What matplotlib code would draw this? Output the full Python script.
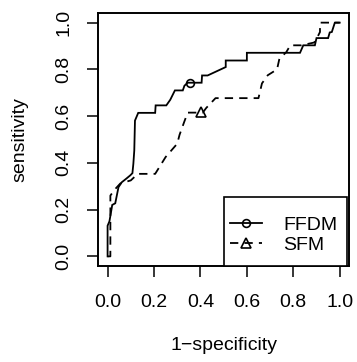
import matplotlib
matplotlib.use("Agg")
import matplotlib.pyplot as plt
from matplotlib.patches import Rectangle
from matplotlib.lines import Line2D

plt.rcParams['font.family'] = ['Liberation Sans', 'DejaVu Sans']

# FFDM ROC curve (1-specificity, sensitivity)
ffdm_fpr = [0.000, 0.000, 0.008, 0.016, 0.020, 0.033, 0.047, 0.061, 0.080, 0.097,
            0.107, 0.111, 0.115, 0.118, 0.132, 0.205, 0.207, 0.253, 0.270, 0.290,
            0.324, 0.331, 0.345, 0.405, 0.407, 0.431, 0.509, 0.509, 0.600, 0.600,
            0.829, 0.843, 0.893, 0.900, 0.950, 0.957, 0.966, 0.979, 1.000]
ffdm_tpr = [0.000, 0.131, 0.150, 0.196, 0.220, 0.227, 0.296, 0.317, 0.332, 0.346,
            0.356, 0.396, 0.453, 0.581, 0.614, 0.614, 0.646, 0.646, 0.670, 0.710,
            0.710, 0.730, 0.743, 0.743, 0.774, 0.774, 0.810, 0.838, 0.838, 0.871,
            0.871, 0.903, 0.903, 0.934, 0.934, 0.958, 0.960, 1.000, 1.000]

# SFM ROC curve
sfm_fpr = [0.000, 0.012, 0.012, 0.030, 0.055, 0.100, 0.130, 0.205, 0.250, 0.300,
           0.310, 0.330, 0.345, 0.410, 0.425, 0.465, 0.650, 0.665, 0.690, 0.730,
           0.740, 0.770, 0.787, 0.835, 0.890, 0.905, 0.915, 0.915, 1.000]
sfm_tpr = [0.000, 0.000, 0.260, 0.285, 0.312, 0.325, 0.353, 0.353, 0.425, 0.482,
           0.520, 0.575, 0.615, 0.615, 0.635, 0.677, 0.677, 0.740, 0.775, 0.800,
           0.845, 0.874, 0.903, 0.903, 0.915, 0.940, 0.960, 1.000, 1.000]

# highlighted operating points
ffdm_point = (0.353, 0.743)
sfm_point = (0.402, 0.617)

ticks = [0.0, 0.2, 0.4, 0.6, 0.8, 1.0]
tick_labels = ["0.0", "0.2", "0.4", "0.6", "0.8", "1.0"]
series_names = ["FFDM", "SFM"]

W, H = 357, 362
fig = plt.figure(figsize=(W / 100, H / 100), dpi=100)
L, R, T, B = 98.3, 349.0, 13.3, 265.7
ax = fig.add_axes([L / W, 1 - B / H, (R - L) / W, (B - T) / H])

lw = 1.3
dash = (0, (4.6, 3.4))
ax.plot(ffdm_fpr, ffdm_tpr, color='black', lw=lw, solid_joinstyle='miter')
ax.plot(sfm_fpr, sfm_tpr, color='black', lw=lw, linestyle=dash)
ax.plot([ffdm_point[0]], [ffdm_point[1]], marker='o', ms=5.6, mfc='none',
        mec='black', mew=1.2, linestyle='none')
ax.plot([sfm_point[0]], [sfm_point[1]], marker='^', ms=6.8, mfc='none',
        mec='black', mew=1.2, linestyle='none')

ax.set_xlim(-0.04, 1.04)
ax.set_ylim(-0.04, 1.04)
ax.set_xticks(ticks)
ax.set_xticklabels(tick_labels)
ax.set_yticks(ticks)
ax.set_yticklabels(tick_labels, rotation=90, va='center')
ax.tick_params(axis='both', direction='out', length=7.9, width=1.1,
               labelsize=14, colors='black')
ax.tick_params(axis='x', pad=12.5)
ax.tick_params(axis='y', pad=10.5)
for s in ax.spines.values():
    s.set_linewidth(1.4)

ax.set_xlabel("1\u2212specificity", fontsize=14, labelpad=19)
ax.set_ylabel("sensitivity", fontsize=14, labelpad=20)

# legend box (R style)
lx0 = (224 - L) / (R - L)
lx1 = (346.7 - L) / (R - L)
ly1 = (B - 197.3) / (B - T)
ax.add_patch(Rectangle((lx0, 0.0), lx1 - lx0, ly1, transform=ax.transAxes,
                       fill=True, facecolor='white', edgecolor='black', lw=1.2,
                       zorder=5, clip_on=False))
handles = [
    Line2D([], [], color='black', lw=lw, marker='o', ms=5.6, mfc='none', mew=1.2),
    Line2D([], [], color='black', lw=lw, linestyle=dash, marker='^', ms=6.8,
           mfc='none', mew=1.2),
]
hx = (230 - L) / (R - L)
hy = (B - 216.0) / (B - T)
leg = ax.legend(handles, series_names, loc='upper left', bbox_to_anchor=(hx, hy),
                frameon=False, borderpad=0, borderaxespad=0, handlelength=1.65,
                handletextpad=1.08, labelspacing=0.12, fontsize=14)
leg.set_zorder(6)

fig.savefig("out.png", dpi=100)
